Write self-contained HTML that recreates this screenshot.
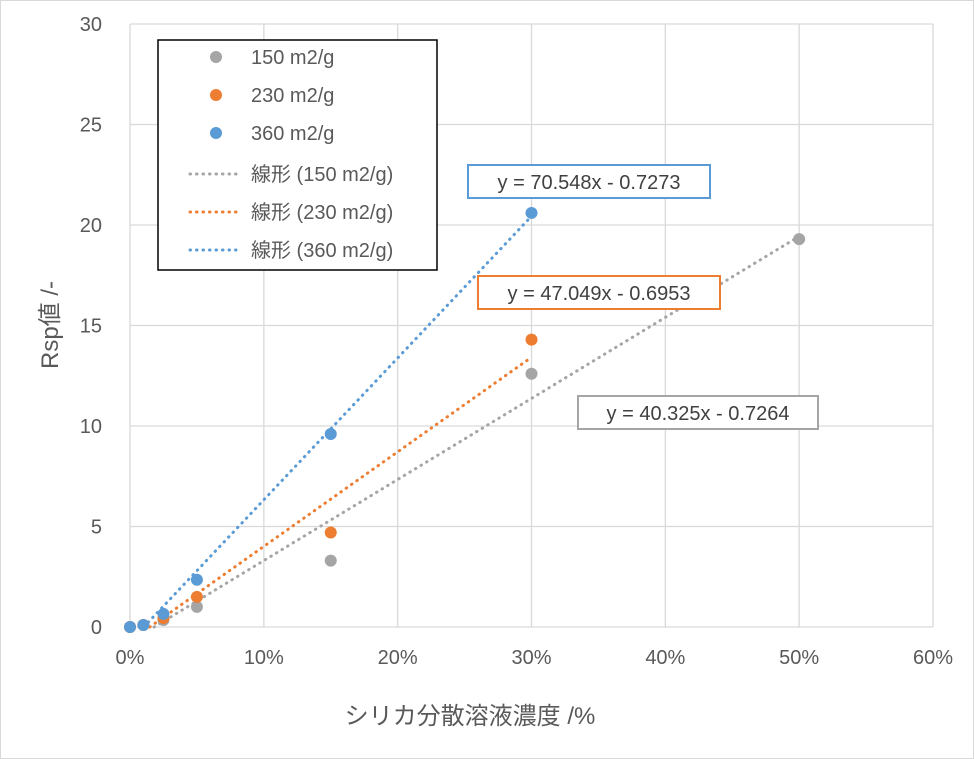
<!DOCTYPE html>
<html><head><meta charset="utf-8">
<style>
body{margin:0;background:#fff;}
svg{display:block;font-family:"Liberation Sans","Noto Sans CJK JP",sans-serif;}
</style></head>
<body>
<svg id="chart" width="974" height="759" xmlns="http://www.w3.org/2000/svg">
<rect x="0.5" y="0.5" width="973" height="758" fill="#fff" stroke="#d9d9d9"/>
<g id="grid"></g>
<g id="trends"></g>
<g id="points"></g>
<g id="ticks"></g>
<text x="470" y="724" font-size="24" fill="#595959" text-anchor="middle">シリカ分散溶液濃度 /%</text>
<text transform="translate(58,325) rotate(-90)" font-size="24" fill="#595959" text-anchor="middle">Rsp値 /-</text>
<g id="eqs"></g>
<g>
<rect x="158" y="40" width="279" height="230" fill="#fff" stroke="#000" stroke-width="1.5"/>
<g id="legend"></g>
</g>
</svg>
<script>
const categories = ["150 m2/g","230 m2/g","360 m2/g"];
const colors = ["#a5a5a5","#ed7d31","#5b9bd5"];
const xs150 = [0,0.01,0.025,0.05,0.15,0.30,0.50];
const ys150 = [0,0.1,0.35,1.0,3.3,12.6,19.3];
const xs230 = [0,0.01,0.025,0.05,0.15,0.30];
const ys230 = [0,0.1,0.45,1.5,4.7,14.3];
const xs360 = [0,0.01,0.025,0.05,0.15,0.30];
const ys360 = [0,0.1,0.65,2.35,9.6,20.6];
const slopes = [40.325,47.049,70.548];
const intercepts = [-0.7264,-0.6953,-0.7273];
const eqLabels = ["y = 40.325x - 0.7264","y = 47.049x - 0.6953","y = 70.548x - 0.7273"];
const xTicks = [0,0.1,0.2,0.3,0.4,0.5,0.6];
const yTicks = [0,5,10,15,20,25,30];

const NS="http://www.w3.org/2000/svg";
const X=v=>130+v/0.6*803;
const Y=v=>627-v/30*603;
function mk(tag,attrs,parent){const e=document.createElementNS(NS,tag);for(const k in attrs)e.setAttribute(k,attrs[k]);parent.appendChild(e);return e;}
const grid=document.getElementById('grid'),ticks=document.getElementById('ticks');
yTicks.forEach(t=>{
 const l=mk('line',{x1:X(0),x2:X(0.6),y1:Y(t),y2:Y(t),stroke:'#d9d9d9','stroke-width':1.3},grid);
 
 
 const tx=mk('text',{x:X(0)-28,y:Y(t)+7,'font-size':20,fill:'#595959','text-anchor':'end'},ticks);
 tx.textContent=t;
 
 
});
xTicks.forEach(t=>{
 const l=mk('line',{x1:X(t),x2:X(t),y1:Y(0),y2:Y(30),stroke:'#d9d9d9','stroke-width':1.3},grid);
 
 
 const tx=mk('text',{x:X(t),y:664,'font-size':20,fill:'#595959','text-anchor':'middle'},ticks);
 tx.textContent=Math.round(t*100)+'%';
 
 
});
const series=[[xs150,ys150],[xs230,ys230],[xs360,ys360]];
const trends=document.getElementById('trends'),pts=document.getElementById('points');
series.forEach((s,i)=>{
 const xmax=Math.max(...s[0]);
 let x0=0; if(intercepts[i]<0) x0=-intercepts[i]/slopes[i];
 const l=mk('line',{x1:X(x0),y1:Y(slopes[i]*x0+intercepts[i]),x2:X(xmax),y2:Y(slopes[i]*xmax+intercepts[i]),stroke:colors[i],'stroke-width':3,'stroke-dasharray':'0.5 6','stroke-linecap':'round'},trends);
 
 
});
series.forEach((s,i)=>{
 s[0].forEach((xv,j)=>{
  const c=mk('circle',{cx:X(xv),cy:Y(s[1][j]),r:6,fill:colors[i]},pts);
  
  
 });
});
const eqs=document.getElementById('eqs');
const eqPos=[[578,396,240],[478,276,242],[468,165,242]];
eqLabels.forEach((t,i)=>{
 const p=eqPos[i];
 const r=mk('rect',{x:p[0],y:p[1],width:p[2],height:33,fill:'#fff',stroke:colors[i],'stroke-width':2},eqs);
 
 
 const tx=mk('text',{x:p[0]+p[2]/2,y:p[1]+24,'font-size':20,fill:'#404040','text-anchor':'middle'},eqs);
 tx.textContent=t;
 
 
});
const lg=document.getElementById('legend');
categories.forEach((c,i)=>{
 const y=57+i*38;
 const d=mk('circle',{cx:216,cy:y,r:6,fill:colors[i]},lg);
 
 
 const t=mk('text',{x:251,y:y+7,'font-size':20,fill:'#595959'},lg);
 t.textContent=c;
 
 
});
categories.forEach((c,i)=>{
 const y=174+i*38;
 const l=mk('line',{x1:190,x2:242,y1:y,y2:y,stroke:colors[i],'stroke-width':3,'stroke-dasharray':'0.5 6','stroke-linecap':'round'},lg);
 
 
 const t=mk('text',{x:251,y:y+7,'font-size':20,fill:'#595959'},lg);
 t.textContent='線形 ('+c+')';
 
 
});
</script>
</body></html>
